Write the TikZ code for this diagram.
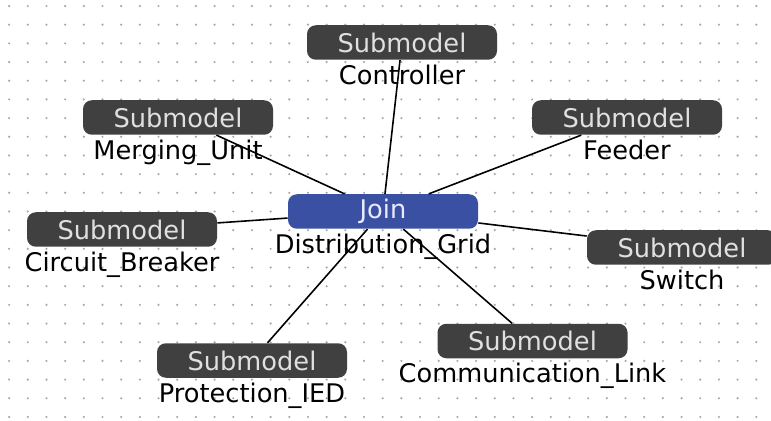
\documentclass[tikz,border=0pt]{standalone}
\usepackage{fontspec}
\setmainfont{DejaVu Sans}
\usepackage{xcolor}
\definecolor{subfill}{HTML}{404040}
\definecolor{joinfill}{HTML}{3A51A3}
\definecolor{dotgray}{HTML}{A8A8A8}
\usetikzlibrary{positioning}

\begin{document}
\begin{tikzpicture}[every node/.style={font=\fontsize{14.6}{17}\selectfont},
    submodel/.style={fill=subfill, rounded corners=5pt, minimum width=3.8cm,
      minimum height=0.69cm, inner sep=0pt, text=white!88!black},
    joinbox/.style={submodel, fill=joinfill, text=blue!8!white},
    caption/.style={inner sep=0pt, text height=0.37cm, text depth=0.1cm,
      below=0.11cm of #1},
    link/.style={line width=0.9pt}]
    \useasboundingbox (0,0) rectangle (15.42,8.4);
    % dotted grid
    \foreach \i in {0,...,40}
      \foreach \j in {0,...,22}
        \fill[dotgray] (0.182+0.3736*\i, 8.28-0.3736*\j) circle (0.024);

    \node[joinbox] (grid) at (7.66,4.17) {Join};
    \node[submodel] (ctrl) at (8.04,7.55) {Submodel};
    \node[submodel] (mu) at (3.56,6.05) {Submodel};
    \node[submodel] (feed) at (12.54,6.05) {Submodel};
    \node[submodel] (cb) at (2.44,3.81) {Submodel};
    \node[submodel] (sw) at (13.64,3.45) {Submodel};
    \node[submodel] (comm) at (10.65,1.58) {Submodel};
    \node[submodel] (ied) at (5.04,1.19) {Submodel};

    \node[caption=grid] (grid-l) {Distribution\_Grid};
    \node[caption=ctrl] (ctrl-l) {Controller};
    \node[caption=mu] (mu-l) {Merging\_Unit};
    \node[caption=feed] (feed-l) {Feeder};
    \node[caption=cb] (cb-l) {Circuit\_Breaker};
    \node[caption=sw] (sw-l) {Switch};
    \node[caption=comm] (comm-l) {Communication\_Link};
    \node[caption=ied] (ied-l) {Protection\_IED};

    \foreach \n in {ctrl,mu,feed,cb,sw,comm,ied}
      \draw[link] (grid) -- (\n);
  \end{tikzpicture}
\end{document}
